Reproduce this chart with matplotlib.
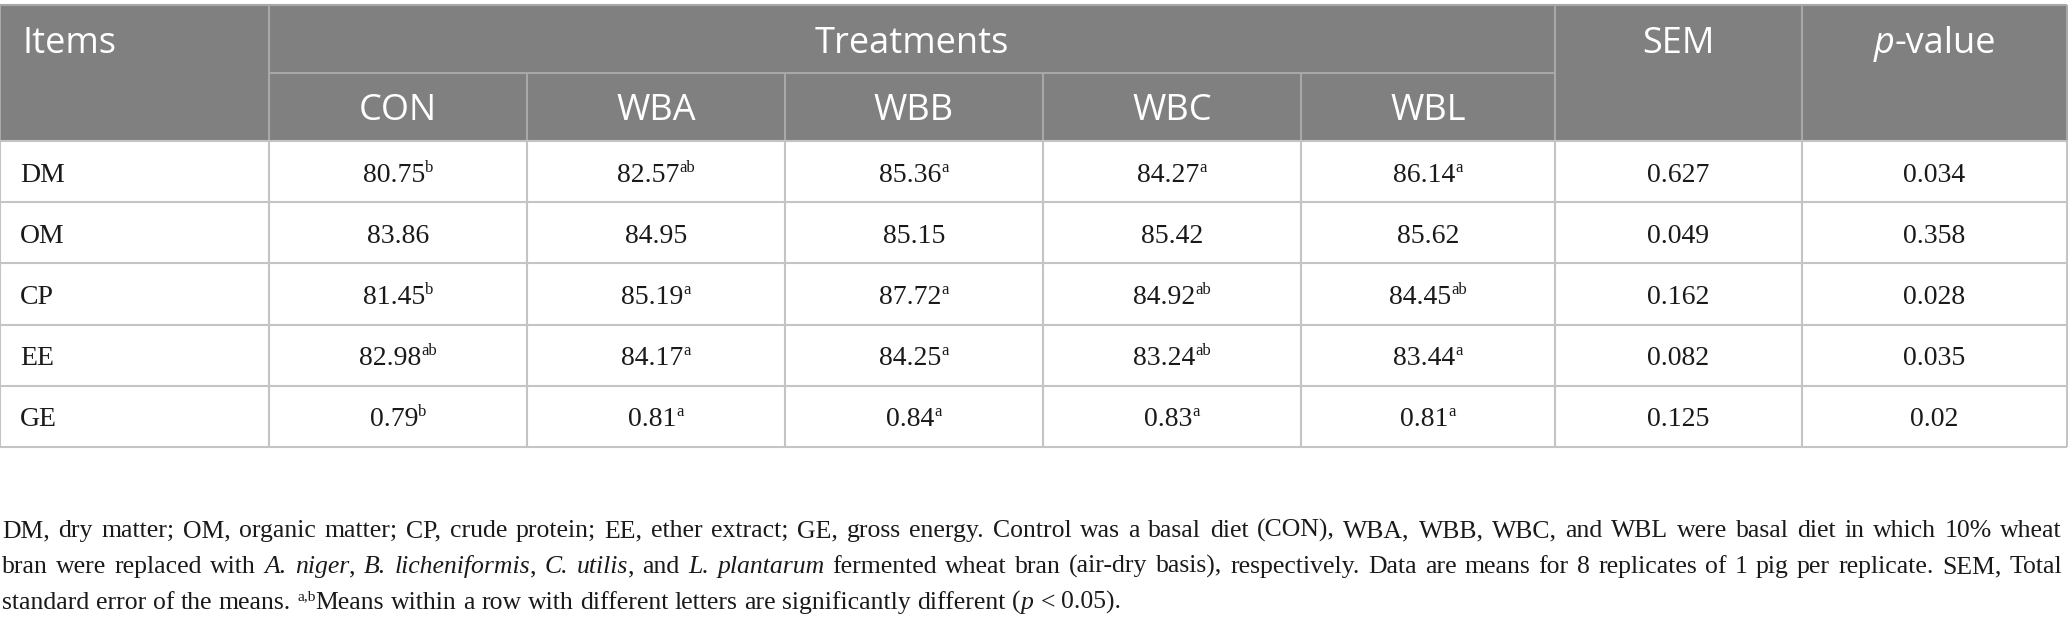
import matplotlib
matplotlib.use("Agg")
import matplotlib.pyplot as plt
from matplotlib.patches import Rectangle

# table content
items = ["DM", "OM", "CP", "EE", "GE"]
treatments = ["CON", "WBA", "WBB", "WBC", "WBL"]
means = [
    [80.75, 82.57, 85.36, 84.27, 86.14],
    [83.86, 84.95, 85.15, 85.42, 85.62],
    [81.45, 85.19, 87.72, 84.92, 84.45],
    [82.98, 84.17, 84.25, 83.24, 83.44],
    [0.79, 0.81, 0.84, 0.83, 0.81],
]
letters = [
    ["b", "ab", "a", "a", "a"],
    ["", "", "", "", ""],
    ["b", "a", "a", "ab", "ab"],
    ["ab", "a", "a", "ab", "a"],
    ["b", "a", "a", "a", "a"],
]
sem = [0.627, 0.049, 0.162, 0.082, 0.125]
p_values = ["0.034", "0.358", "0.028", "0.035", "0.02"]

footnote = [
    "DM, dry matter; OM, organic matter; CP, crude protein; EE, ether extract; GE, gross energy. "
    "Control was a basal diet (CON), WBA, WBB, WBC, and WBL were basal diet in which 10% wheat",
    "bran were replaced with *A. niger*, *B. licheniformis*, *C. utilis*, and *L. plantarum* fermented "
    "wheat bran (air-dry basis), respectively. Data are means for 8 replicates of 1 pig per replicate. SEM, Total",
    "standard error of the means. ^a,b^Means within a row with different letters are significantly "
    "different (*p* < 0.05).",
]

W, H = 2068, 625
fig = plt.figure(figsize=(W / 100, H / 100), dpi=100)
ax = fig.add_axes([0, 0, 1, 1])
ax.set_xlim(0, W)
ax.set_ylim(H, 0)
ax.axis("off")
renderer = fig.canvas.get_renderer()

SANS = "Open Sans"
SERIF = "Liberation Serif"
HEAD_BG = "#808080"
HEAD_LINE = "#a8a8a8"
GRID = "#c4c4c4"
INK = "#1a1a1a"

cols = [0, 269, 527, 785, 1043, 1301, 1555, 1802, 2067]
top, mid, head_bot = 4.5, 73, 141
row_h = (447 - head_bot) / len(items)


def parse(s):
    # *..* -> italic, ^..^ -> superscript
    chars, it, sp = [], False, False
    for ch in s:
        if ch == "*":
            it = not it
            continue
        if ch == "^":
            sp = not sp
            continue
        chars.append((ch, it, sp))
    words, cur = [], []
    for ch, i, s_ in chars:
        if ch == " ":
            if cur:
                words.append(cur)
                cur = []
            continue
        if cur and cur[-1][1] == i and cur[-1][2] == s_:
            cur[-1] = (cur[-1][0] + ch, i, s_)
        else:
            cur.append((ch, i, s_))
    if cur:
        words.append(cur)
    return words


def kw(family, size, it, sp, color):
    return dict(family=family, fontsize=size * (0.6 if sp else 1.0),
                style="italic" if it else "normal", color=color)


def measure(s, k):
    t = ax.text(0, 0, s, **k)
    w = t.get_window_extent(renderer).width
    t.remove()
    return w


def layout(s, family, size):
    words = parse(s)
    widths = [sum(measure(t, kw(family, size, i, sp, "k")) for t, i, sp in w) for w in words]
    base = kw(family, size, False, False, "k")
    space = measure("x x", base) - 2 * measure("x", base)
    return words, widths, space


def draw(x, y, s, family, size, color, align="left", justify=None):
    words, widths, space = layout(s, family, size)
    if justify is not None and len(words) > 1:
        space = (justify - sum(widths)) / (len(words) - 1)
    total = sum(widths) + space * (len(words) - 1)
    cx = x - total / 2 if align == "center" else x
    px = size * 100 / 72
    for w, ww in zip(words, widths):
        for t, i, sp in w:
            k = kw(family, size, i, sp, color)
            dy = -0.36 * px if sp else 0
            ax.text(cx, y + dy, t, ha="left", va="baseline", **k)
            cx += measure(t, k)
        cx += space


# header background and lines
ax.add_patch(Rectangle((0, top), cols[-1], head_bot - top, color=HEAD_BG, lw=0))
ax.hlines(top, 0, cols[-1], color=HEAD_LINE, lw=1.5)
ax.hlines(mid, cols[1], cols[6], color=HEAD_LINE, lw=1.5)
ax.vlines([cols[0], cols[1], cols[6], cols[7], cols[8]], top, head_bot, color=HEAD_LINE, lw=1.5)
ax.vlines(cols[2:6], mid, head_bot, color=HEAD_LINE, lw=1.5)

hs = 26
draw(23, 53, "Items", SANS, hs, "white")
draw((cols[1] + cols[6]) / 2, 53, "Treatments", SANS, hs, "white", "center")
draw((cols[6] + cols[7]) / 2, 53, "SEM", SANS, hs, "white", "center")
draw((cols[7] + cols[8]) / 2, 53, "*p*-value", SANS, hs, "white", "center")
for j, name in enumerate(treatments):
    draw((cols[j + 1] + cols[j + 2]) / 2, 120, name, SANS, hs, "white", "center")

# body grid
ys = [head_bot + r * row_h for r in range(len(items) + 1)]
ax.hlines(ys, 0, cols[-1], color=GRID, lw=1.5)
ax.vlines(cols, head_bot, ys[-1], color=GRID, lw=1.5)

ds = 20
for r, name in enumerate(items):
    base = ys[r] + row_h / 2 + 10
    draw(20, base, name, SERIF, ds, INK)
    for j in range(len(treatments)):
        s = f"{means[r][j]:.2f}"
        if letters[r][j]:
            s += "^" + letters[r][j] + "^"
        draw((cols[j + 1] + cols[j + 2]) / 2, base, s, SERIF, ds, INK, "center")
    draw((cols[6] + cols[7]) / 2, base, f"{sem[r]:.3f}", SERIF, ds, INK, "center")
    draw((cols[7] + cols[8]) / 2, base, p_values[r], SERIF, ds, INK, "center")

# footnote, fit the justified lines to the table width
fs = 18.5
right = 2062
while fs > 12:
    widest = 0
    for line in footnote[:2]:
        words, widths, space = layout(line, SERIF, fs)
        widest = max(widest, sum(widths) + space * 0.8 * (len(words) - 1))
    if widest <= right:
        break
    fs -= 0.25

for k, line in enumerate(footnote):
    just = right - 2 if k < 2 else None
    draw(2, 537 + 36 * k, line, SERIF, fs, INK, justify=just)

fig.savefig("out.png", dpi=100)
